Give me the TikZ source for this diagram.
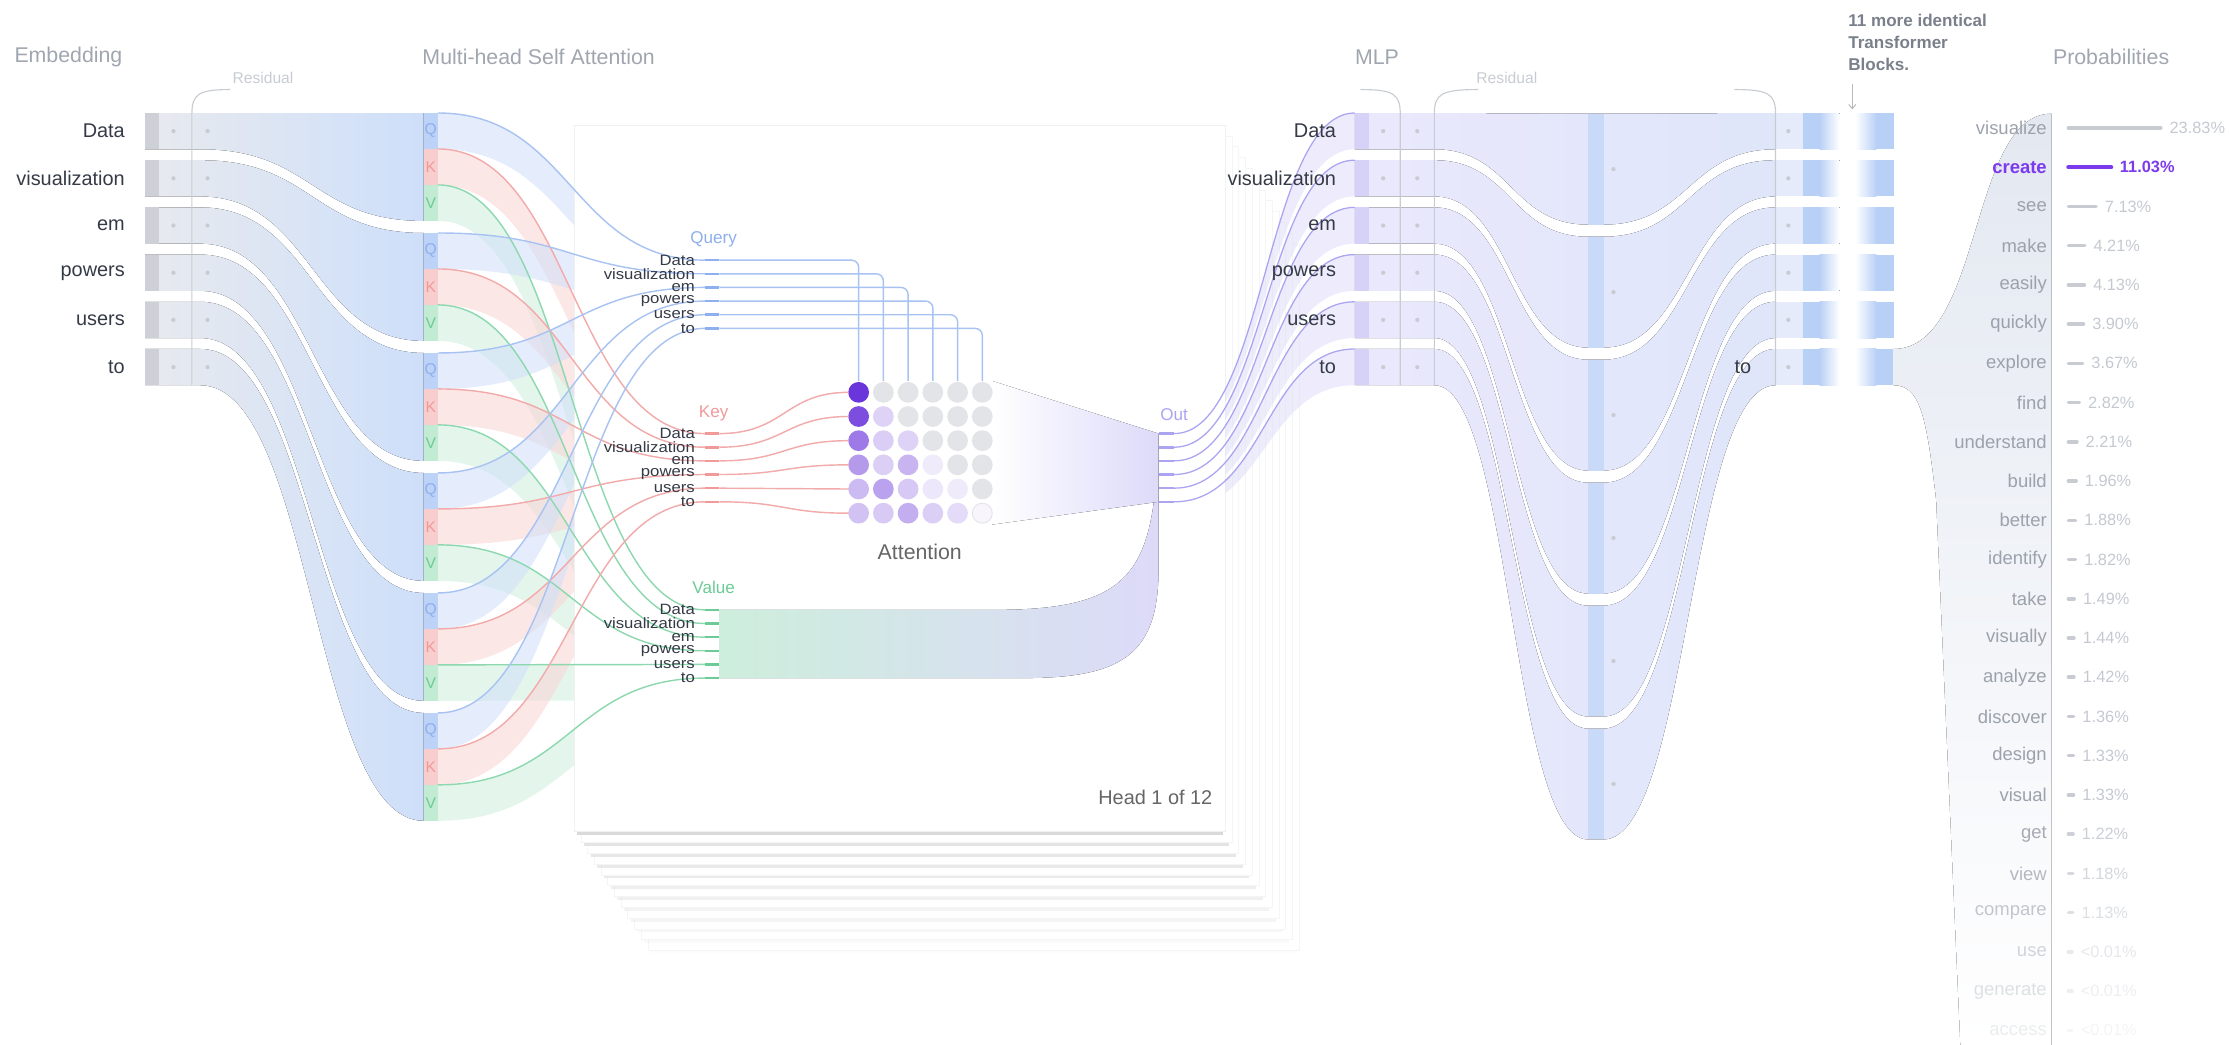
\documentclass[tikz,border=0pt]{standalone}
\usepackage{fontspec}
\setmainfont{Liberation Sans}
\usetikzlibrary{positioning, arrows.meta}

\definecolor{ttlgray}{HTML}{A0A6AF}
\definecolor{tokgray}{HTML}{343A46}
\definecolor{resgray}{HTML}{C8CCD2}
\definecolor{embgray}{HTML}{E8EAEE}
\definecolor{embstrip}{HTML}{CDD0D6}
\definecolor{embblue}{HTML}{CEDFFA}
\definecolor{qstrip}{HTML}{BCD3F7}
\definecolor{kstrip}{HTML}{F8CDCD}
\definecolor{vstrip}{HTML}{C2EBD3}
\definecolor{qline}{HTML}{A8C3F1}
\definecolor{kline}{HTML}{F2AAAA}
\definecolor{vline}{HTML}{8DD8AF}
\definecolor{qband}{HTML}{CFDFFA}
\definecolor{kband}{HTML}{FAD3D3}
\definecolor{vband}{HTML}{CDEEDC}
\definecolor{qtext}{HTML}{8EB0EE}
\definecolor{ktext}{HTML}{F09A9A}
\definecolor{vtext}{HTML}{6CCB96}
\definecolor{outln}{HTML}{ABA5F1}
\definecolor{outband}{HTML}{DDDAF9}
\definecolor{attv}{HTML}{6A35DA}
\definecolor{attgray}{HTML}{E3E4E8}
\definecolor{mlplav}{HTML}{EAE8FC}
\definecolor{mlpstrip}{HTML}{D6D1F7}
\definecolor{mlpblue}{HTML}{DFE6FA}
\definecolor{bigstrip}{HTML}{C8DAF8}
\definecolor{rowblue}{HTML}{E5EBFB}
\definecolor{blkstrip}{HTML}{B9D0F6}
\definecolor{probbg}{HTML}{E3E8F1}
\definecolor{probtxt}{HTML}{9CA2AC}
\definecolor{pcttxt}{HTML}{C4C9D0}
\definecolor{barg}{HTML}{C8CBD2}
\definecolor{hipurple}{HTML}{7C3AED}
\definecolor{blknote}{HTML}{7A808B}

\begin{document}
\begin{tikzpicture}[x=1pt,y=-1pt,
    ttl/.style={font=\fontsize{15}{18}\selectfont,text=ttlgray,anchor=west,inner sep=0pt},
    tk/.style={font=\fontsize{14}{16}\selectfont,text=tokgray,anchor=east,inner sep=0pt},
    sm/.style={font=\fontsize{10.5}{11}\selectfont,text=tokgray,anchor=east,inner sep=0pt,xscale=1.12},
    hd/.style={font=\fontsize{12}{14}\selectfont,inner sep=0pt},
    resl/.style={font=\fontsize{11}{13}\selectfont,text=resgray,inner sep=0pt},
    gdot/.style={circle,fill=resgray,inner sep=0pt,minimum size=3pt},
    bkt/.style={draw=resgray,line width=0.8pt},
    fl/.style={line width=1pt},
    tkmark/.style={line width=1.8pt},
    plbl/.style={font=\fontsize{13}{15}\selectfont,text=probtxt,anchor=east,inner sep=0pt},
    ppct/.style={font=\fontsize{11.5}{13}\selectfont,text=pcttxt,anchor=west,inner sep=0pt}]
  \useasboundingbox (0,0) rectangle (1568,735);
  \clip (0,0) rectangle (1568,735);

  % embedding rows and flow into Q/K/V
  \foreach \k in {0,...,5}{
    \pgfmathsetmacro{\ra}{79.5+33.2*\k}
    \pgfmathsetmacro{\rb}{\ra+25.5}
    \pgfmathsetmacro{\ca}{79.5+84.4*\k}
    \pgfmathsetmacro{\cb}{\ca+75.9}
    \fill[left color=embgray,right color=embblue] (102,\ra) -- (141,\ra)
      .. controls (220,\ra) and (220,\ca) .. (298,\ca) -- (298,\cb)
      .. controls (220,\cb) and (220,\rb) .. (141,\rb) -- (102,\rb) -- cycle;
    \fill[embstrip] (102,\ra) rectangle (112,\rb);
    \node[gdot] at (122,\ra+12.75) {};
    \node[gdot] at (146,\ra+12.75) {};
    \fill[qstrip] (298,\ca) rectangle ++(10,25.3);
    \fill[kstrip] (298,\ca+25.3) rectangle ++(10,25.3);
    \fill[vstrip] (298,\ca+50.6) rectangle ++(10,25.3);
    \node[hd,text=qtext,font=\fontsize{11}{12}\selectfont] at (303,\ca+12.65) {Q};
    \node[hd,text=ktext,font=\fontsize{11}{12}\selectfont] at (303,\ca+37.95) {K};
    \node[hd,text=vtext,font=\fontsize{11}{12}\selectfont] at (303,\ca+63.25) {V};
  }
  \foreach \k in {0,...,5}{
    \pgfmathsetmacro{\ca}{79.5+84.4*\k}
    \foreach \c/\yr/\dy in {qband/183/0,kband/305/25.3,vband/429/50.6}{
      \pgfmathsetmacro{\ya}{\ca+\dy}
      \pgfmathsetmacro{\yb}{\yr+9.6*\k}
      \fill[\c,opacity=.55] (308,\ya) .. controls (402,\ya) and (402,\yb) .. (496,\yb)
        -- (496,\yb+25.3) .. controls (402,\yb+25.3) and (402,\ya+25.3) .. (308,\ya+25.3) -- cycle;
    }
  }

  % MLP funnel and right rows
  \foreach \k in {0,...,5}{
    \pgfmathsetmacro{\ra}{79.5+33.2*\k}
    \pgfmathsetmacro{\rb}{\ra+25.5}
    \pgfmathsetmacro{\ba}{80+86.5*\k}
    \pgfmathsetmacro{\bb}{\ba+78}
    \fill[left color=mlplav,right color=mlpblue] (953,\ra) -- (1009,\ra)
      .. controls (1063,\ra) and (1063,\ba) .. (1117,\ba) -- (1128,\ba)
      .. controls (1188,\ba) and (1188,\ra) .. (1249,\ra) -- (1249,\rb)
      .. controls (1188,\rb) and (1188,\bb) .. (1128,\bb) -- (1117,\bb)
      .. controls (1063,\bb) and (1063,\rb) .. (1009,\rb) -- (953,\rb) -- cycle;
    \fill[mlpstrip] (953,\ra) rectangle (963,\rb);
    \fill[bigstrip] (1117,\ba) rectangle (1128,\bb);
    \node[gdot] at (973,\ra+12.75) {};
    \node[gdot] at (997,\ra+12.75) {};
    \node[gdot] at (1135,\ba+39) {};
    \fill[rowblue] (1249,\ra) rectangle (1268,\rb);
    \node[gdot] at (1258,\ra+12.75) {};
    \fill[blkstrip] (1268,\ra) rectangle (1280,\rb);
    \fill[left color=blkstrip,right color=white] (1280,\ra) rectangle (1294,\rb);
    \fill[left color=white,right color=blkstrip] (1305,\ra) rectangle (1320,\rb);
    \fill[blkstrip] (1320,\ra) rectangle (1332,\rb);
  }
  \fill[top color=probbg,bottom color=white] (1332,245.5) .. controls (1395,245.5) and (1385,80) .. (1443,80)
    -- (1443,735) -- (1379,735) -- (1362,352) .. controls (1355,290) and (1350,271) .. (1332,271) -- cycle;

  % brackets
  \draw[bkt] (162,63) .. controls (140,63) and (135,66) .. (135,80) -- (135,271);
  \draw[bkt] (957,63) .. controls (980,63) and (985,66) .. (985,80) -- (985,271);
  \draw[bkt] (1040,63) .. controls (1014,63) and (1009,66) .. (1009,80) -- (1009,271);
  \draw[bkt] (1220,63) .. controls (1244,63) and (1249,66) .. (1249,80) -- (1249,271);

  % stack of heads
  \foreach \i in {11,...,1}{
    \pgfmathsetmacro{\op}{0.75-\i/16}
    \fill[white,draw=gray!8,line width=.4pt] (404+4.7*\i,88+7.6*\i) rectangle ++(458,497);
    \draw[gray!30,line width=2pt,opacity=\op] (406+4.7*\i,586.5+7.6*\i) -- ++(454,0);
  }
  \draw[gray!30,line width=2.2pt] (406,586.5) -- (860,586.5);
  \filldraw[white,draw=gray!12,line width=.5pt] (404,88) rectangle (862,585);

  % head content
  \fill[left color=vband,right color=outband] (506,429) -- (700,429)
    .. controls (800,429) and (812,400) .. (815,305) -- (815,400)
    .. controls (815,460) and (790,477) .. (720,477) -- (506,477) -- cycle;
  \fill[left color=white,right color=outband] (698,268) -- (815,305) -- (815,353) -- (698,369) -- cycle;
  \foreach \row [count=\r from 0] in {{100,0,0,0,0,0},{88,22,0,0,0,0},{66,25,22,0,0,0},{50,24,37,10,0,0},{34,46,27,12,10,0},{30,26,40,24,18,5}}{
    \foreach \p [count=\c from 0] in \row {
      \ifnum\p=0 \def\dotc{attgray}\else\def\dotc{attv!\p!white}\fi
      \fill[\dotc] (604+17.4*\c,276+17*\r) circle (7.3pt);
    }
  }
  \draw[attgray,line width=.6pt] (691,361) circle (7pt);
  \node[hd,text=qtext] (query) at (502,168) {Query};
  \node[hd,text=ktext] (key) at (502,291) {Key};
  \node[hd,text=vtext] (value) at (502,413) {Value};
  \node[hd,text=outln] (out) at (826,292) {Out};
  \node[font=\fontsize{15}{18}\selectfont,text=gray!80!black,inner sep=0pt] (attn) at (647,388) {Attention};
  \node[font=\fontsize{14}{17}\selectfont,text=gray!80!black,anchor=east,inner sep=0pt] (head) at (853,561) {Head 1 of 12};

  % thin Q/K/V links
  \foreach \k in {0,...,5}{
    \pgfmathsetmacro{\ca}{79.5+84.4*\k}
    \foreach \c/\yr/\dy in {qline/183/0,kline/305/25.3,vline/429/50.6}{
      \pgfmathsetmacro{\ya}{\ca+\dy}
      \pgfmathsetmacro{\yb}{\yr+9.6*\k}
      \draw[\c,fl] (308,\ya) .. controls (402,\ya) and (402,\yb) .. (496,\yb);
    }
  }
  \foreach \w [count=\r from 0] in {Data,visualization,em,powers,users,to}{
    \pgfmathsetmacro{\yq}{183+9.6*\r}
    \pgfmathsetmacro{\yk}{305+9.6*\r}
    \pgfmathsetmacro{\yv}{429+9.6*\r}
    \pgfmathsetmacro{\yo}{305+9.6*\r}
    \pgfmathsetmacro{\xc}{604+17.4*\r}
    \pgfmathsetmacro{\yd}{276+17*\r}
    \draw[qline,fl,rounded corners=5pt] (506,\yq) -| (\xc,268);
    \draw[kline,fl] (506,\yk) .. controls (552,\yk) and (552,\yd) .. (597,\yd);
    \draw[qtext,tkmark] (496,\yq) -- (506,\yq);
    \draw[ktext,tkmark] (496,\yk) -- (506,\yk);
    \draw[vtext,tkmark] (496,\yv) -- (506,\yv);
    \draw[outln,tkmark] (815,\yo) -- (826,\yo);
    \node[sm] (q\r) at (489,\yq) {\w};
    \node[sm] (k\r) at (489,\yk) {\w};
    \node[sm] (v\r) at (489,\yv) {\w};
  }

  % out to MLP
  \begin{scope}
    \clip (862,0) rectangle (953,735);
    \foreach \k in {0,...,5}{
      \pgfmathsetmacro{\yo}{305+9.6*\k}
      \pgfmathsetmacro{\ra}{79.5+33.2*\k}
      \fill[outband,opacity=.5] (826,\yo) .. controls (890,\yo) and (890,\ra) .. (953,\ra)
        -- (953,\ra+25.5) .. controls (890,\ra+25.5) and (890,\yo+6) .. (826,\yo+6) -- cycle;
    }
  \end{scope}
  \foreach \k in {0,...,5}{
    \pgfmathsetmacro{\yo}{305+9.6*\k}
    \pgfmathsetmacro{\ra}{79.5+33.2*\k}
    \draw[outln,line width=.9pt] (826,\yo) .. controls (890,\yo) and (890,\ra) .. (953,\ra);
  }

  % labels
  \node[ttl] (embt) at (10,40) {Embedding};
  \node[ttl] (mhsa) at (297,40) {Multi-head Self Attention};
  \node[ttl] (mlpt) at (953,40) {MLP};
  \node[ttl] (probt) at (1444,40) {Probabilities};
  \node[resl] (res1) at (185,55) {Residual};
  \node[resl] (res2) at (1060,55) {Residual};
  \node[font=\fontsize{12}{15.5}\selectfont\bfseries,text=blknote,align=left,anchor=north west,inner sep=0pt] (more) at (1300,10) {11 more identical\\Transformer\\Blocks.};
  \coordinate (arr0) at (1303,59);
  \coordinate (arr1) at (1303,77);
  \draw[-{Straight Barb[length=3pt,width=5pt]},gray!55,line width=.7pt] (arr0) -- (arr1);
  \foreach \w [count=\k from 0] in {Data,visualization,em,powers,users,to}{
    \pgfmathsetmacro{\yc}{92.25+33.2*\k}
    \node[tk] (e\k) at (88,\yc) {\w};
    \node[tk] (m\k) at (940,\yc) {\w};
  }
  \node[tk] (tout) at (1232,258.25) {to};

  % probabilities
  \foreach \w/\pc/\bl/\op [count=\i from 0] in {visualize/23.83/65/1,create/11.03/30.1/1,see/7.13/19.5/1,make/4.21/11.5/1,easily/4.13/11.3/1,quickly/3.90/10.6/1,explore/3.67/10/1,find/2.82/7.7/1,understand/2.21/6/1,build/1.96/5.4/1,better/1.88/5.1/1,identify/1.82/5/1,take/1.49/4.1/1,visually/1.44/3.9/1,analyze/1.42/3.9/1,discover/1.36/3.7/1,design/1.33/3.6/1,visual/1.33/3.6/1,get/1.22/3.3/.9,view/1.18/3.2/.75,compare/1.13/3.1/.6,use/<0.01/2.5/.45,generate/<0.01/2.5/.32,access/<0.01/2.5/.2}{
    \pgfmathsetmacro{\yy}{90+27.6*\i}
    \ifnum\i=1
      \node[plbl,text=hipurple,font=\fontsize{13}{15}\selectfont\bfseries] (p\i) at (1440,\yy) {\w};
      \draw[hipurple,line width=3pt,line cap=round] (1455,\yy) -- ++(\bl,0);
      \node[ppct,text=hipurple,font=\fontsize{11.5}{13}\selectfont\bfseries] at (1461+\bl,\yy) {\pc\%};
    \else
      \node[plbl,opacity=\op] (p\i) at (1440,\yy) {\w};
      \draw[barg,line width=2.5pt,line cap=round,opacity=\op] (1455,\yy) -- ++(\bl,0);
      \node[ppct,opacity=\op] at (1461+\bl,\yy) {\pc\%};
    \fi
  }
\end{tikzpicture}
\end{document}
